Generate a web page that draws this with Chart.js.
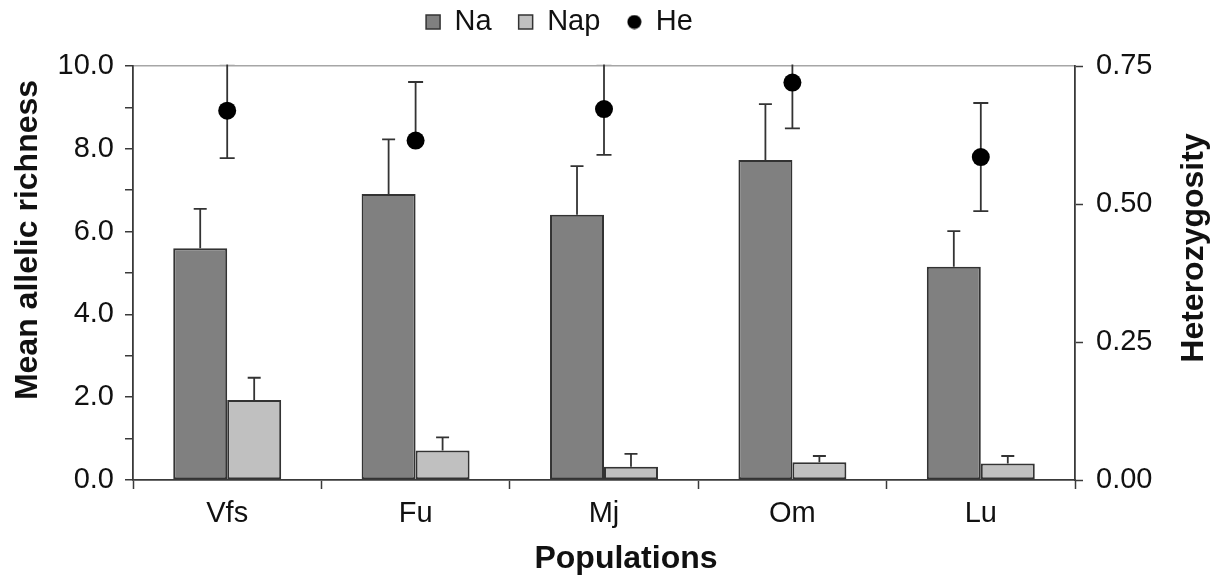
<!DOCTYPE html>
<html>
<head>
<meta charset="utf-8">
<script src="https://cdn.jsdelivr.net/npm/chart.js@4/dist/chart.umd.min.js"></script>
<style>
  html, body { margin: 0; padding: 0; background: #ffffff; }
  #wrap { position: relative; width: 1214px; height: 575px; }
</style>
</head>
<body>
<div id="wrap"><canvas id="chart"></canvas></div>
<script>
// Populations sampled
const populations = ['Vfs', 'Fu', 'Mj', 'Om', 'Lu'];

// Mean allelic richness (left axis) with upper error
const naValues = [5.60, 6.91, 6.41, 7.73, 5.15];
const naErr    = [0.95, 1.32, 1.17, 1.35, 0.86];
const napValues = [1.93, 0.71, 0.32, 0.43, 0.40];
const napErr    = [0.54, 0.32, 0.31, 0.15, 0.18];

// Heterozygosity (right axis) with upper / lower error
const heValues = [0.669, 0.615, 0.672, 0.720, 0.585];
const heErrUp  = [0.086, 0.106, 0.083, 0.083, 0.098];
const heErrLow = [0.086, 0.000, 0.083, 0.083, 0.098];

// Axis tick settings
const leftTicks = { min: 0, max: 10, step: 1 };
const rightTicks = { min: 0, max: 0.75, step: 0.25 };

const FONT = '"Liberation Sans", Arial, Helvetica, sans-serif';
const AXIS_DARK = '#3a3a3a';

// black dot used as the He legend marker
const heDot = document.createElement('canvas');
heDot.width = 15; heDot.height = 15;
(function () {
  const c = heDot.getContext('2d');
  c.fillStyle = '#000';
  c.beginPath(); c.arc(7.5, 7.5, 7, 0, Math.PI * 2); c.fill();
})();

// whiskers for the bars and the He points
const errorBars = {
  id: 'errorBars',
  beforeDatasetsDraw(chart) {
    const ctx = chart.ctx;
    const area = chart.chartArea;
    const y = chart.scales.y, y1 = chart.scales.y1;
    ctx.save();
    ctx.beginPath();
    ctx.rect(area.left, area.top - 1.5, area.right - area.left, area.bottom - area.top + 1.5);
    ctx.clip();
    ctx.strokeStyle = '#333333';
    ctx.lineWidth = 1.8;
    const whisker = (x, yFrom, yTo, half) => {
      if (Math.abs(yTo - yFrom) < 0.5) return;
      ctx.beginPath();
      ctx.moveTo(x, yFrom); ctx.lineTo(x, yTo);
      ctx.moveTo(x - half, yTo); ctx.lineTo(x + half, yTo);
      ctx.stroke();
    };
    const naMeta = chart.getDatasetMeta(0), napMeta = chart.getDatasetMeta(1), heMeta = chart.getDatasetMeta(2);
    naMeta.data.forEach((bar, i) => {
      whisker(bar.x, y.getPixelForValue(naValues[i]), y.getPixelForValue(naValues[i] + naErr[i]), 6.5);
    });
    napMeta.data.forEach((bar, i) => {
      whisker(bar.x, y.getPixelForValue(napValues[i]), y.getPixelForValue(napValues[i] + napErr[i]), 6.5);
    });
    heMeta.data.forEach((pt, i) => {
      const c = y1.getPixelForValue(heValues[i]);
      whisker(pt.x, c, y1.getPixelForValue(heValues[i] + heErrUp[i]), 7.5);
      whisker(pt.x, c, y1.getPixelForValue(heValues[i] - heErrLow[i]), 7.5);
    });
    ctx.restore();
  }
};

// axis titles (both vertical titles read bottom-to-top)
const axisTitles = {
  id: 'axisTitles',
  afterDraw(chart) {
    const ctx = chart.ctx;
    ctx.save();
    ctx.fillStyle = '#111111';
    ctx.font = 'bold 32px ' + FONT;
    ctx.textAlign = 'center';
    ctx.textBaseline = 'alphabetic';
    ctx.fillText('Populations', 626, 568);

    ctx.save();
    ctx.translate(37, 240);
    ctx.rotate(-Math.PI / 2);
    ctx.fillText('Mean allelic richness', 0, 0);
    ctx.restore();

    ctx.save();
    ctx.translate(1203, 248);
    ctx.rotate(-Math.PI / 2);
    ctx.fillText('Heterozygosity', 0, 0);
    ctx.restore();
    ctx.restore();
  }
};

// place the legend row at the top, slightly left of centre
const legendPlacement = {
  id: 'legendPlacement',
  afterLayout(chart) {
    const lg = chart.legend;
    if (!lg) return;
    lg.left -= 47.5; lg.right -= 47.5;
    lg.top -= 19.5; lg.bottom -= 19.5;
  }
};

new Chart(document.getElementById('chart'), {
  type: 'bar',
  data: {
    labels: populations,
    datasets: [
      {
        label: 'Na',
        data: naValues,
        backgroundColor: '#808080',
        borderColor: '#333333',
        borderWidth: 2,
        borderSkipped: false,
        categoryPercentage: 0.573,
        barPercentage: 1.0,
        yAxisID: 'y',
        order: 2
      },
      {
        label: 'Nap',
        data: napValues,
        backgroundColor: '#c0c0c0',
        borderColor: '#333333',
        borderWidth: 2,
        borderSkipped: false,
        categoryPercentage: 0.573,
        barPercentage: 1.0,
        yAxisID: 'y',
        order: 2
      },
      {
        type: 'line',
        label: 'He',
        data: heValues,
        showLine: false,
        pointRadius: 9,
        pointHoverRadius: 9,
        pointBackgroundColor: '#000000',
        pointBorderColor: '#000000',
        pointBorderWidth: 0,
        yAxisID: 'y1',
        order: 1
      }
    ]
  },
  options: {
    responsive: true,
    maintainAspectRatio: false,
    animation: false,
    events: [],
    layout: { padding: 0 },
    plugins: {
      tooltip: { enabled: false },
      legend: {
        display: true,
        position: 'top',
        align: 'center',
        labels: {
          usePointStyle: true,
          boxWidth: 14,
          boxHeight: 14,
          padding: 27,
          color: '#111111',
          font: { family: FONT, size: 29 },
          generateLabels() {
            return [
              { text: 'Na', fillStyle: '#808080', strokeStyle: '#333333', lineWidth: 1.5, pointStyle: 'rect', datasetIndex: 0, fontColor: '#111111' },
              { text: 'Nap', fillStyle: '#c0c0c0', strokeStyle: '#333333', lineWidth: 1.5, pointStyle: 'rect', datasetIndex: 1, fontColor: '#111111' },
              { text: 'He', fillStyle: '#000000', strokeStyle: '#000000', lineWidth: 0, pointStyle: heDot, datasetIndex: 2, fontColor: '#111111' }
            ];
          }
        }
      }
    },
    scales: {
      x: {
        type: 'category',
        position: 'bottom',
        offset: true,
        afterFit(scale) { scale.height = 95; },
        grid: {
          offset: true,
          drawOnChartArea: false,
          drawTicks: true,
          tickLength: 9,
          tickColor: AXIS_DARK,
          tickWidth: 1.5
        },
        border: { display: true, color: AXIS_DARK, width: 1.8 },
        ticks: {
          color: '#111111',
          font: { family: FONT, size: 29 },
          padding: 8,
          autoSkip: false,
          maxRotation: 0
        }
      },
      y: {
        type: 'linear',
        position: 'left',
        min: leftTicks.min,
        max: leftTicks.max,
        afterFit(scale) { scale.width = 133; },
        grid: {
          drawOnChartArea: true,
          drawTicks: true,
          tickLength: 8,
          tickColor: AXIS_DARK,
          tickWidth: 1.5,
          lineWidth: 1.5,
          color: (c) => (c.tick && c.tick.value === leftTicks.max ? '#a6a6a6' : 'rgba(0,0,0,0)')
        },
        border: { display: true, color: AXIS_DARK, width: 1.8 },
        ticks: {
          stepSize: leftTicks.step,
          autoSkip: false,
          color: '#111111',
          font: { family: FONT, size: 29 },
          padding: 11,
          callback: (v) => (Math.round(v) % 2 === 0 ? Number(v).toFixed(1) : '')
        }
      },
      y1: {
        type: 'linear',
        position: 'right',
        min: rightTicks.min,
        max: rightTicks.max,
        afterFit(scale) { scale.width = 139; },
        grid: {
          drawOnChartArea: false,
          drawTicks: true,
          tickLength: 8,
          tickColor: AXIS_DARK,
          tickWidth: 1.5
        },
        border: { display: true, color: AXIS_DARK, width: 1.8 },
        ticks: {
          stepSize: rightTicks.step,
          autoSkip: false,
          color: '#111111',
          font: { family: FONT, size: 29 },
          padding: 13,
          callback: (v) => Number(v).toFixed(2)
        }
      }
    }
  },
  plugins: [errorBars, axisTitles, legendPlacement]
});
</script>
</body>
</html>
